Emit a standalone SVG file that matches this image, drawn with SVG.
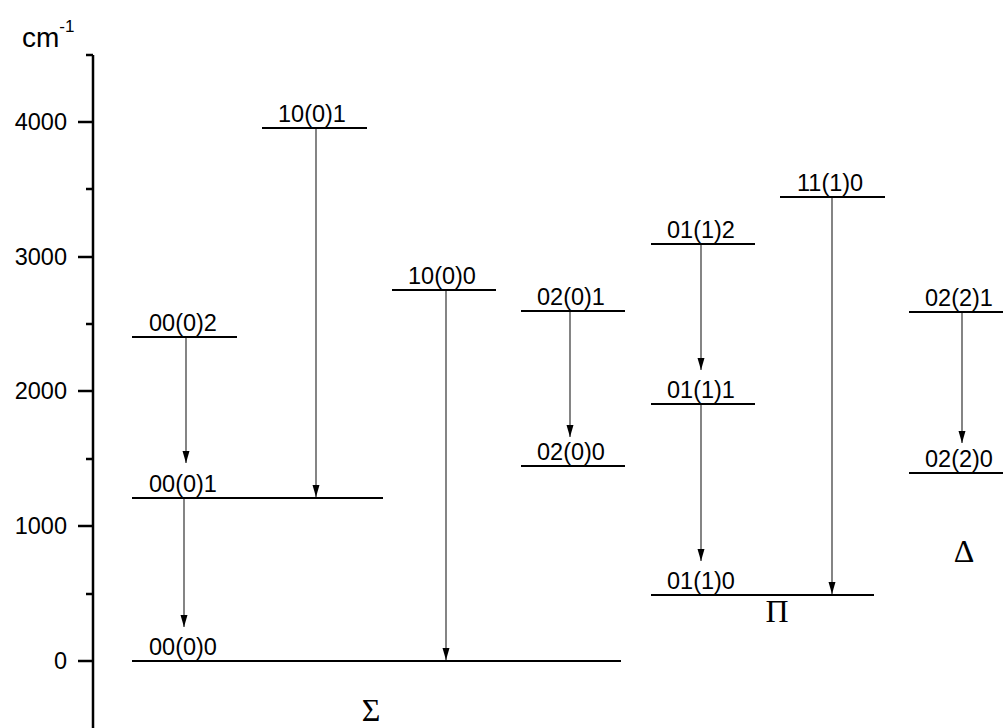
<svg xmlns="http://www.w3.org/2000/svg" width="1003" height="728" viewBox="0 0 1003 728">
<style>
.axis{stroke:#000;stroke-width:2.5;fill:none}
.tick{stroke:#000;stroke-width:2.5}
.lvl{stroke:#000;stroke-width:2}
.arr{stroke:#333;stroke-width:1.2;fill:none;marker-end:url(#ah)}
.lab{font-family:"Liberation Sans",Arial,sans-serif;font-size:23.5px;fill:#000}
.tl{font-family:"Liberation Sans",Arial,sans-serif;font-size:23.5px;fill:#000;text-anchor:end}
.gr{font-family:"Liberation Serif","Times New Roman",serif;font-size:32px;fill:#000;text-anchor:middle}
</style>
<defs>
<marker id="ah" markerUnits="userSpaceOnUse" markerWidth="12" markerHeight="14" refX="12" refY="3.5" orient="auto">
<path d="M0,0 L12,3.5 L0,7 z" fill="#000"/>
</marker>
</defs>
<rect width="1003" height="728" fill="#fff"/>
<g id="axis">
<line class="axis" x1="93" y1="55" x2="93" y2="728"/>
<line class="tick" x1="86" y1="55" x2="93" y2="55"/>
<line class="tick" x1="78" y1="122" x2="93" y2="122"/>
<line class="tick" x1="86" y1="189" x2="93" y2="189"/>
<line class="tick" x1="78" y1="257" x2="93" y2="257"/>
<line class="tick" x1="86" y1="324" x2="93" y2="324"/>
<line class="tick" x1="78" y1="391" x2="93" y2="391"/>
<line class="tick" x1="86" y1="459" x2="93" y2="459"/>
<line class="tick" x1="78" y1="526" x2="93" y2="526"/>
<line class="tick" x1="86" y1="594" x2="93" y2="594"/>
<line class="tick" x1="78" y1="661" x2="93" y2="661"/>
<text class="tl" x="67" y="130">4000</text>
<text class="tl" x="67" y="265">3000</text>
<text class="tl" x="67" y="399">2000</text>
<text class="tl" x="67" y="534">1000</text>
<text class="tl" x="67" y="669">0</text>
<text x="22" y="47" font-family="Liberation Sans, Arial, sans-serif" font-size="28px">cm<tspan dy="-15" font-size="17px">-1</tspan></text>
</g>
<g id="n-0000"><line class="lvl" x1="132" y1="661" x2="621" y2="661"/><text class="lab" x="149" y="655">00(0)0</text></g>
<g id="n-0001"><line class="lvl" x1="132" y1="498" x2="383" y2="498"/><text class="lab" x="149" y="492">00(0)1</text></g>
<g id="n-0002"><line class="lvl" x1="132" y1="337" x2="237" y2="337"/><text class="lab" x="149" y="331">00(0)2</text></g>
<g id="n-1001"><line class="lvl" x1="262" y1="128" x2="367" y2="128"/><text class="lab" x="278" y="122">10(0)1</text></g>
<g id="n-1000"><line class="lvl" x1="392" y1="290" x2="496" y2="290"/><text class="lab" x="408" y="284">10(0)0</text></g>
<g id="n-0201"><line class="lvl" x1="521" y1="311" x2="625" y2="311"/><text class="lab" x="537" y="305">02(0)1</text></g>
<g id="n-0200"><line class="lvl" x1="521" y1="466" x2="625" y2="466"/><text class="lab" x="537" y="460">02(0)0</text></g>
<g id="n-0112"><line class="lvl" x1="651" y1="244" x2="755" y2="244"/><text class="lab" x="667" y="238">01(1)2</text></g>
<g id="n-0111"><line class="lvl" x1="651" y1="404" x2="755" y2="404"/><text class="lab" x="667" y="398">01(1)1</text></g>
<g id="n-0110"><line class="lvl" x1="651" y1="595" x2="874" y2="595"/><text class="lab" x="667" y="589">01(1)0</text></g>
<g id="n-1110"><line class="lvl" x1="780" y1="197" x2="885" y2="197"/><text class="lab" x="797" y="191">11(1)0</text></g>
<g id="n-0221"><line class="lvl" x1="909" y1="312" x2="1003" y2="312"/><text class="lab" x="925" y="306">02(2)1</text></g>
<g id="n-0220"><line class="lvl" x1="909" y1="473" x2="1003" y2="473"/><text class="lab" x="925" y="467">02(2)0</text></g>
<g id="symmetry">
<text class="gr" x="371" y="721">Σ</text>
<text class="gr" x="777" y="622">Π</text>
<text class="gr" x="964" y="562">Δ</text>
</g>
<g id="connectors">
<line class="arr" x1="186" y1="338" x2="186" y2="463"/>
<line class="arr" x1="316" y1="129" x2="316" y2="497"/>
<line class="arr" x1="184" y1="499" x2="184" y2="627"/>
<line class="arr" x1="446" y1="291" x2="446" y2="660"/>
<line class="arr" x1="570" y1="312" x2="570" y2="437"/>
<line class="arr" x1="701" y1="245" x2="701" y2="370"/>
<line class="arr" x1="701" y1="405" x2="701" y2="561"/>
<line class="arr" x1="832" y1="198" x2="832" y2="594"/>
<line class="arr" x1="962" y1="313" x2="962" y2="443"/>
</g>
</svg>
